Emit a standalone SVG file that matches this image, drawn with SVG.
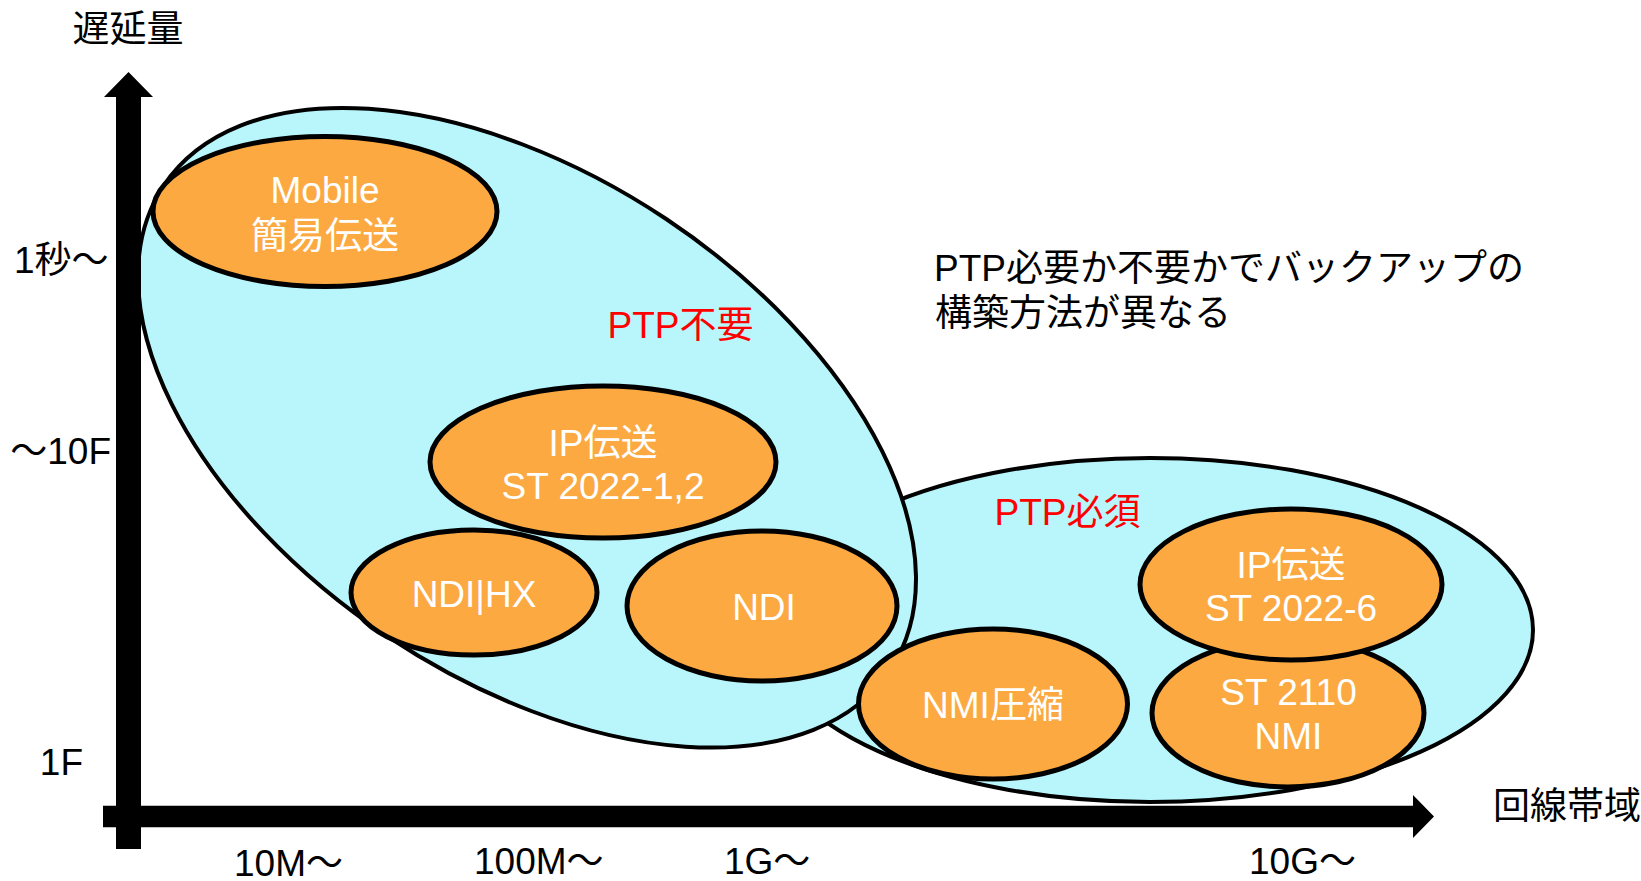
<svg xmlns="http://www.w3.org/2000/svg" width="1641" height="881" viewBox="0 0 1641 881">
  <style>
    text { font-family: "Liberation Sans", "Noto Sans CJK JP", sans-serif; font-size: 37px; }
    .zone { fill: #B8F6FC; stroke: #000; stroke-width: 4; }
    .node { fill: #FCA942; stroke: #000; stroke-width: 5; }
    .lbl { fill: #FFFFFF; text-anchor: middle; }
    .red { fill: #FF0000; text-anchor: middle; }
    .ax { fill: #000000; }
  </style>
  <rect width="1641" height="881" fill="#FFFFFF"/>

  <g id="zone-ptp-required">
    <ellipse class="zone" cx="1150" cy="630" rx="383" ry="172"/>
  </g>
  <g id="zone-ptp-not-required">
    <ellipse class="zone" cx="527" cy="427.75" rx="436.6" ry="250.9" transform="rotate(33.7 527 427.75)"/>
  </g>

  <g id="node-mobile">
    <ellipse class="node" cx="325" cy="211.5" rx="172" ry="75"/>
    <text class="lbl" x="325" y="203">Mobile</text>
    <text class="lbl" x="325" y="249">簡易伝送</text>
  </g>
  <g id="node-ip-2022-12">
    <ellipse class="node" cx="603" cy="462" rx="173" ry="76"/>
    <text class="lbl" x="603" y="456">IP伝送</text>
    <text class="lbl" x="603" y="499">ST 2022-1,2</text>
  </g>
  <g id="node-ndihx">
    <ellipse class="node" cx="474" cy="592.5" rx="123" ry="62.5"/>
    <text class="lbl" x="474" y="607">NDI|HX</text>
  </g>
  <g id="node-ndi">
    <ellipse class="node" cx="762" cy="606" rx="135" ry="75"/>
    <text class="lbl" x="764" y="619.5">NDI</text>
  </g>
  <g id="node-nmi-compressed">
    <ellipse class="node" cx="993" cy="704" rx="134.5" ry="75"/>
    <text class="lbl" x="993" y="718">NMI圧縮</text>
  </g>
  <g id="node-st2110">
    <ellipse class="node" cx="1288" cy="713" rx="136" ry="74"/>
    <text class="lbl" x="1288.5" y="705">ST 2110</text>
    <text class="lbl" x="1288.5" y="749">NMI</text>
  </g>
  <g id="node-ip-2022-6">
    <ellipse class="node" cx="1291" cy="584.5" rx="151" ry="75.5"/>
    <text class="lbl" x="1291" y="577.5">IP伝送</text>
    <text class="lbl" x="1291" y="620.5">ST 2022-6</text>
  </g>

  <g id="zone-labels">
    <text class="red" x="680.5" y="338">PTP不要</text>
    <text class="red" x="1067.5" y="525">PTP必須</text>
  </g>

  <g id="axes">
    <path class="ax" d="M116,849 L116,97 L104,97 L128.5,72 L153,97 L141,97 L141,849 Z"/>
    <path class="ax" d="M103,805.7 L1413,805.7 L1413,795 L1434,816.5 L1413,838 L1413,827.3 L103,827.3 Z"/>
  </g>

  <g id="axis-labels">
    <text x="128" y="41.5" text-anchor="middle">遅延量</text>
    <text x="14" y="272.7">1秒〜</text>
    <text x="111" y="464.3" text-anchor="end">〜10F</text>
    <text x="83" y="775" text-anchor="end">1F</text>
    <text x="234" y="876">10M〜</text>
    <text x="474" y="874">100M〜</text>
    <text x="724" y="874">1G〜</text>
    <text x="1249" y="874">10G〜</text>
    <text x="1493" y="819">回線帯域</text>
  </g>

  <g id="note">
    <text x="934" y="281">PTP必要か不要かでバックアップの</text>
    <text x="935" y="326">構築方法が異なる</text>
  </g>
</svg>
